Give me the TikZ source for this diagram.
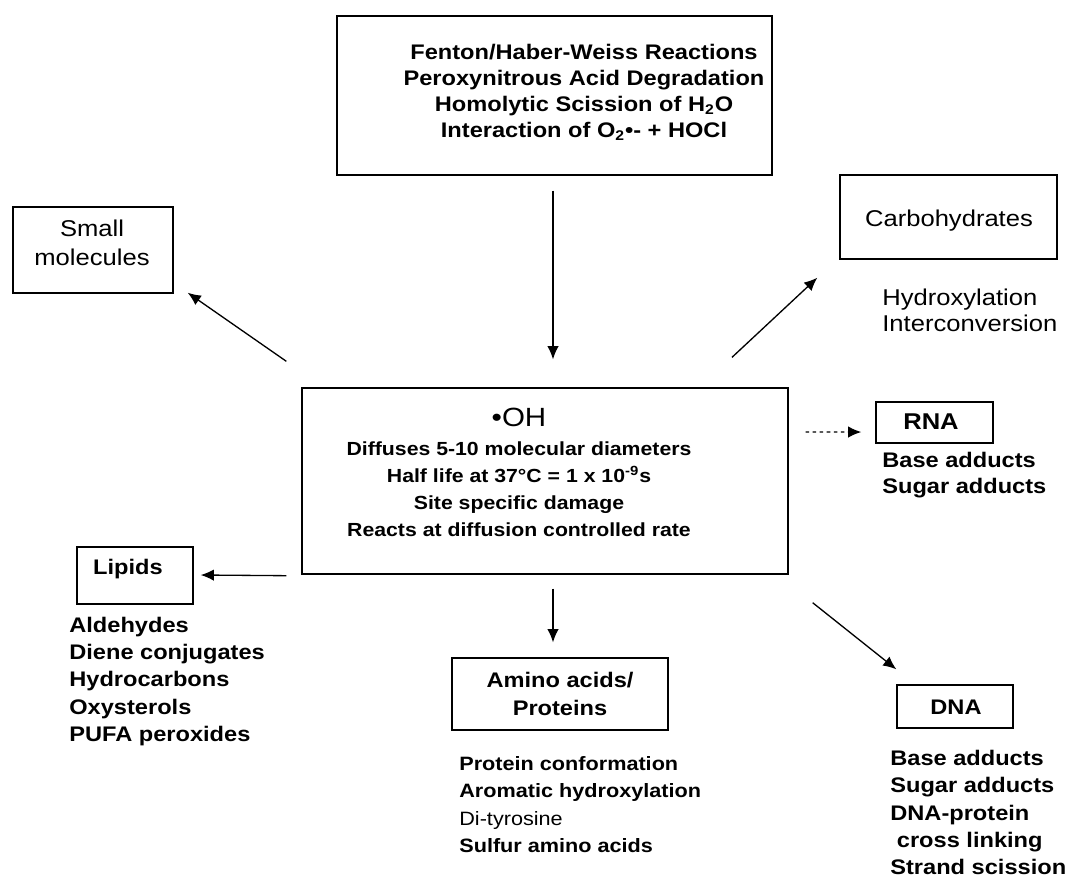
\documentclass[tikz,border=0pt]{standalone}
\usepackage{fontspec}
\setmainfont{Liberation Sans}[FakeStretch=1.12]
\usetikzlibrary{arrows.meta}
\begin{document}
\begin{tikzpicture}[x=0.02cm,y=-0.02cm,
  box/.style={draw, line width=0.8pt, inner sep=0pt},
  arr/.style={-{Latex[length=7.5pt,width=6.5pt]}, line width=0.75pt},
  lbl/.style={inner sep=0pt, align=center},
  lst/.style={inner sep=0pt, align=left, anchor=west},
  bigb/.style={font=\bfseries\fontsize{12}{14.9}\selectfont},
  midb/.style={font=\bfseries\fontsize{10.8}{15.3}\selectfont},
  regl/.style={font=\fontsize{13}{14.7}\selectfont}
]
\useasboundingbox (0,0) rectangle (1069,877);
% boxes
\node[box, minimum width=8.7cm, minimum height=3.18cm] (topbox) at (554.5,95.5) {};
\node[box, minimum width=9.72cm, minimum height=3.72cm] (ohbox) at (545,481) {};
\node[box, minimum width=3.2cm, minimum height=1.72cm] (smallbox) at (93,250) {};
\node[box, minimum width=4.34cm, minimum height=1.68cm] (carbbox) at (948.5,217) {};
\node[box, minimum width=2.34cm, minimum height=0.82cm] (rnabox) at (934.5,422.5) {};
\node[box, minimum width=2.32cm, minimum height=1.14cm] (lipbox) at (135,575.5) {};
\node[box, minimum width=4.32cm, minimum height=1.44cm] (aminobox) at (560,694) {};
\node[box, minimum width=2.32cm, minimum height=0.86cm] (dnabox) at (955,706.5) {};
% texts in boxes
\node[lbl, bigb] (toptext) at (584,92.5) {Fenton/Haber-Weiss Reactions\\Peroxynitrous Acid Degradation\\Homolytic Scission of H\textsubscript{2}O\\Interaction of O\textsubscript{2}•- + HOCl};
\node[lbl, font=\fontsize{15}{18}\selectfont] (ohtitle) at (519,417) {•OH};
\node[lbl, midb] (ohtext) at (519,489.5) {Diffuses 5-10 molecular diameters\\Half life at 37°C = 1 x 10\textsuperscript{-9}s\\Site specific damage\\Reacts at diffusion controlled rate};
\node[lbl, font=\fontsize{13}{16.4}\selectfont] (smalltext) at (92,242.5) {Small\\molecules};
\node[lbl, regl] (carbtext) at (949,221) {Carbohydrates};
\node[lbl, font=\bfseries\fontsize{13}{15}\selectfont] (rnatext) at (931,422) {RNA};
\node[lbl, bigb] (liptext) at (128,569) {Lipids};
\node[lbl, font=\bfseries\fontsize{12}{15.9}\selectfont] (aminotext) at (560,694) {Amino acids/\\Proteins};
\node[lbl, bigb] (dnatext) at (956,707) {DNA};
% lists
\node[lst, regl] (carblist) at (882,310) {Hydroxylation\\Interconversion};
\node[lst, font=\bfseries\fontsize{12}{14.7}\selectfont] (rnalist) at (882,475) {Base adducts\\Sugar adducts};
\node[lst, font=\bfseries\fontsize{12}{15.4}\selectfont] (liplist) at (69,681.5) {Aldehydes\\Diene conjugates\\Hydrocarbons\\Oxysterols\\PUFA peroxides};
\node[lst, font=\bfseries\fontsize{11}{15.7}\selectfont] (aminolist) at (459,804.5) {Protein conformation\\Aromatic hydroxylation\\{\mdseries Di-tyrosine}\\Sulfur amino acids};
\node[lst, font=\bfseries\fontsize{12}{15.4}\selectfont] (dnalist) at (890,812.5) {Base adducts\\Sugar adducts\\DNA-protein\\\ cross linking\\Strand scission};
% connectors
\draw[arr] ([shift={(-1.5,15)}]topbox.south) -- ([shift={(8,-28)}]ohbox.north);
\draw[arr] ([shift={(-15,-26)}]ohbox.north west) -- ([shift={(14,-1)}]smallbox.south east);
\draw[arr] ([shift={(187,-30)}]ohbox.north) -- ([shift={(-22,18)}]carbbox.south west);
\draw[arr, dash pattern=on 2pt off 2pt] ([shift={(17,-49)}]ohbox.east) -- ([shift={(-14,9.5)}]rnabox.west);
\draw[arr] ([shift={(-15,1)}]ohbox.south west) -- ([shift={(7,-0.5)}]lipbox.east);
\draw[arr] ([shift={(8,14)}]ohbox.south) -- ([shift={(-7,-15)}]aminobox.north);
\draw[arr] ([shift={(24,28)}]ohbox.south east) -- ([shift={(0,-15)}]dnabox.north west);
\end{tikzpicture}
\end{document}
